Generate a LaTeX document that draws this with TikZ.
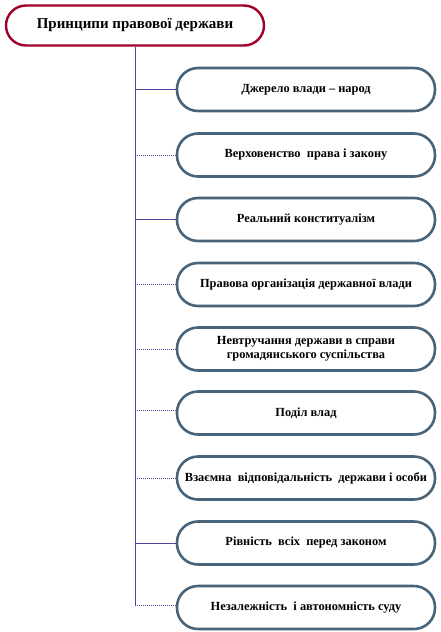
\documentclass[tikz,border=0pt]{standalone}
\usepackage{fontspec}
\setmainfont{Liberation Serif}
\usetikzlibrary{positioning}
\definecolor{titlec}{RGB}{160,0,40}
\definecolor{boxc}{RGB}{72,100,122}
\definecolor{linec}{RGB}{80,66,160}

\begin{document}
\begin{tikzpicture}[x=1pt,y=-1pt,
    titlebox/.style={draw=titlec,line width=2.4pt,rounded corners=20pt,fill=white,
      minimum width=258pt,minimum height=40pt,font=\fontsize{15}{17}\selectfont\bfseries},
    itembox/.style={draw=boxc,line width=2.6pt,rounded corners=21pt,fill=white,
      minimum width=258pt,minimum height=43pt,align=center,inner sep=2pt,
      font=\fontsize{12.4}{14.5}\selectfont\bfseries},
    trunk/.style={linec,line width=0.9pt},
    dotlink/.style={linec,line width=0.9pt,dash pattern=on 1pt off 1pt}]
  \useasboundingbox (0,0) rectangle (441,632);
  % title
  \node[titlebox] (title) at (135,25.5) {Принципи правової держави};
  % principles
  \node[itembox] (b1) at (306,89.5) {Джерело влади -- народ};
  \node[itembox] (b2) at (306,155) {Верховенство\ \ права і закону};
  \node[itembox] (b3) at (306,219.5) {Реальний конституалізм};
  \node[itembox] (b4) at (306,284.5) {Правова організація державної влади};
  \node[itembox] (b5) at (306,349) {Невтручання держави в справи\\громадянського суспільства};
  \node[itembox] (b6) at (306,413) {Поділ влад};
  \node[itembox] (b7) at (306,478) {Взаємна\ \ відповідальність\ \ держави і особи};
  \node[itembox] (b8) at (306,543) {Рівність\ \ всіх\ \ перед законом};
  \node[itembox] (b9) at (306,607.5) {Незалежність\ \ і автономність суду};
  % branch points on the trunk
  \coordinate (j1) at (135,89.5);
  \coordinate (j2) at (135,155);
  \coordinate (j3) at (135,219.5);
  \coordinate (j4) at (135,284.5);
  \coordinate (j5) at (135,349);
  \coordinate (j6) at (135,410);
  \coordinate (j7) at (135,478);
  \coordinate (j8) at (135,543);
  \coordinate (j9) at (135,605);
  % trunk
  \draw[trunk] (title.south) -- (j9);
  % branches
  \draw[trunk] (j1) -- (b1.west);
  \draw[dotlink] (j2) -- (b2.west);
  \draw[trunk] (j3) -- (b3.west);
  \draw[dotlink] (j4) -- (b4.west);
  \draw[dotlink] (j5) -- (b5.west);
  \draw[dotlink] (j6) -- (b6.west |- j6);
  \draw[dotlink] (j7) -- (b7.west);
  \draw[trunk] (j8) -- (b8.west);
  \draw[dotlink] (j9) -- (b9.west |- j9);
\end{tikzpicture}
\end{document}
